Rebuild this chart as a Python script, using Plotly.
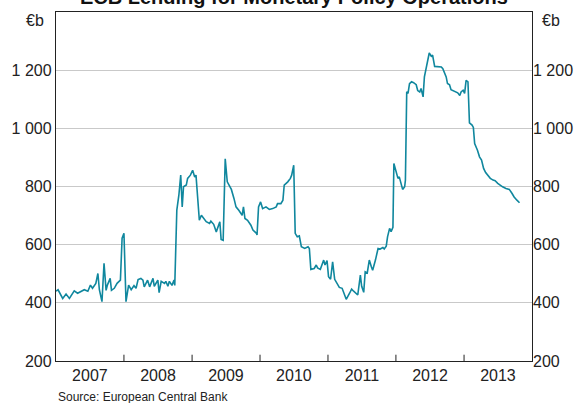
import plotly.graph_objects as go

dates = [
    "2007-01-01", "2007-01-12", "2007-02-06", "2007-02-24", "2007-03-14", "2007-04-09", "2007-04-27",
    "2007-05-15", "2007-06-02", "2007-06-21", "2007-07-05", "2007-07-16", "2007-08-03",
    "2007-08-14", "2007-08-22", "2007-09-05", "2007-09-16", "2007-09-27", "2007-10-04",
    "2007-10-19", "2007-10-26", "2007-11-10", "2007-11-25", "2007-12-13", "2007-12-22",
    "2008-01-01", "2008-01-12", "2008-01-26", "2008-02-09", "2008-02-24", "2008-03-06",
    "2008-03-17", "2008-04-01", "2008-04-12", "2008-04-19", "2008-05-07", "2008-05-18",
    "2008-06-05", "2008-06-12", "2008-07-01", "2008-07-08", "2008-07-19", "2008-08-06",
    "2008-08-13", "2008-08-24", "2008-09-01", "2008-09-15", "2008-09-26", "2008-09-30",
    "2008-10-11", "2008-10-22", "2008-11-01", "2008-11-09", "2008-11-16", "2008-12-01",
    "2008-12-08", "2008-12-23", "2009-01-04", "2009-01-15", "2009-01-22", "2009-02-02",
    "2009-02-09", "2009-02-20", "2009-03-07", "2009-03-18", "2009-04-05", "2009-04-12",
    "2009-04-27", "2009-05-11", "2009-05-30", "2009-06-06", "2009-06-17", "2009-06-24",
    "2009-06-28", "2009-07-09", "2009-07-31", "2009-08-14", "2009-08-25", "2009-09-09",
    "2009-09-27", "2009-10-04", "2009-10-12", "2009-10-26", "2009-11-13", "2009-11-24",
    "2009-12-13", "2009-12-16", "2009-12-24", "2010-01-04", "2010-01-15", "2010-02-02",
    "2010-02-20", "2010-03-10", "2010-03-29", "2010-04-05", "2010-04-23", "2010-05-04",
    "2010-05-11", "2010-05-30", "2010-06-13", "2010-06-20", "2010-07-01", "2010-07-09",
    "2010-07-20", "2010-07-31", "2010-08-11", "2010-08-29", "2010-09-16", "2010-09-23",
    "2010-10-01", "2010-10-19", "2010-10-30", "2010-11-06", "2010-11-21", "2010-12-09",
    "2010-12-16", "2010-12-27", "2011-01-04", "2011-01-15", "2011-01-26", "2011-02-06",
    "2011-02-20", "2011-03-03", "2011-03-18", "2011-03-29", "2011-04-09", "2011-04-27",
    "2011-05-08", "2011-05-19", "2011-06-02", "2011-06-10", "2011-06-24", "2011-07-01",
    "2011-07-12", "2011-07-20", "2011-07-31", "2011-08-11", "2011-08-22", "2011-08-29",
    "2011-09-13", "2011-09-20", "2011-09-27", "2011-10-08", "2011-10-23", "2011-10-30",
    "2011-11-10", "2011-11-17", "2011-11-28", "2011-12-06", "2011-12-16", "2011-12-21",
    "2012-01-01", "2012-01-12", "2012-01-19", "2012-01-30", "2012-02-06", "2012-02-17",
    "2012-02-21", "2012-02-28", "2012-03-06", "2012-03-14", "2012-03-25", "2012-04-05",
    "2012-04-19", "2012-04-27", "2012-05-08", "2012-05-15", "2012-05-26", "2012-06-02",
    "2012-06-13", "2012-06-21", "2012-06-28", "2012-07-09", "2012-07-16", "2012-07-27",
    "2012-08-14", "2012-09-01", "2012-09-09", "2012-09-16", "2012-09-27", "2012-10-04",
    "2012-10-15", "2012-10-23", "2012-11-10", "2012-11-28", "2012-12-09", "2012-12-16",
    "2012-12-27", "2013-01-04", "2013-01-12", "2013-01-22", "2013-01-30", "2013-02-13",
    "2013-02-20", "2013-02-27", "2013-03-14", "2013-03-25", "2013-04-05", "2013-04-16",
    "2013-04-27", "2013-05-08", "2013-05-22", "2013-06-06", "2013-06-17", "2013-07-01",
    "2013-07-12", "2013-07-27", "2013-08-14", "2013-09-01", "2013-09-16", "2013-09-27",
    "2013-10-12", "2013-10-26",
]

lending = [
    440, 445, 415, 430, 415, 441, 433,
    438, 445, 440, 461, 450, 467,
    501, 445, 404, 536, 443, 461,
    484, 443, 450, 467, 478, 622,
    639, 404, 461, 445, 459, 450,
    480, 484, 478, 455, 478, 455,
    484, 457, 478, 435, 474, 467,
    474, 457, 474, 460, 478, 460,
    719, 770, 839, 730, 799, 805,
    828, 839, 856, 833, 839, 753,
    684, 701, 690, 679, 673, 681,
    670, 644, 679, 618, 615, 776,
    895, 816, 790, 759, 730, 718,
    701, 730, 690, 684, 667, 650,
    639, 633, 730, 747, 724, 730,
    721, 724, 730, 741, 741, 753,
    805, 816, 828, 839, 873, 639,
    627, 630, 593, 587, 593, 587,
    515, 518, 530, 520, 515, 547,
    530, 545, 490, 481, 541, 481,
    467, 453, 450, 433, 412, 433,
    447, 440, 433, 427, 495, 457,
    436, 507, 503, 547, 524, 512,
    547, 575, 587, 585, 590, 585,
    595, 627, 656, 645, 660, 879,
    850, 828, 833, 799, 790, 799,
    822, 1126, 1120, 1154, 1160, 1157,
    1150, 1130, 1125, 1137, 1108, 1177,
    1211, 1240, 1259, 1248, 1252, 1213,
    1211, 1211, 1205, 1194, 1177, 1154,
    1150, 1133, 1128, 1122, 1113, 1125,
    1131, 1120, 1165, 1160, 1019, 1011,
    1003, 948, 925, 902, 891, 862,
    848, 840, 828, 822, 820, 811,
    805, 799, 793, 790, 776, 764,
    753, 744,
]

year_labels = ["2007", "2008", "2009", "2010", "2011", "2012", "2013"]
year_label_pos = ["2007-07-02", "2008-07-02", "2009-07-02", "2010-07-02", "2011-07-02", "2012-07-02", "2013-07-02"]
year_ticks = ["2008-01-01", "2009-01-01", "2010-01-01", "2011-01-01", "2012-01-01", "2013-01-01"]
y_ticks = [200, 400, 600, 800, 1000, 1200]
y_ticklabels = ["200", "400", "600", "800", "1 000", "1 200"]

FONT = "Liberation Sans, Arial, sans-serif"
LINE = "#10879e"
AXIS = "#222222"

fig = go.Figure()
fig.add_trace(go.Scatter(x=dates, y=lending, mode="lines",
                         line=dict(color=LINE, width=1.6), showlegend=False,
                         hoverinfo="skip"))
# invisible trace to anchor the right-hand axis
fig.add_trace(go.Scatter(x=[dates[0]], y=[lending[0]], yaxis="y2", mode="lines",
                         line=dict(width=0), showlegend=False, hoverinfo="skip"))

fig.update_layout(
    width=580, height=403,
    margin=dict(l=56, r=48, t=12, b=42, autoexpand=False),
    paper_bgcolor="white", plot_bgcolor="white",
    font=dict(family=FONT, size=16, color="#222222"),
    xaxis=dict(type="date", range=["2007-01-01", "2014-01-01"],
               tickmode="array", tickvals=year_label_pos, ticktext=year_labels,
               ticks="", showgrid=False, zeroline=False, automargin=False,
               showline=True, linecolor=AXIS, linewidth=1.3, mirror=True,
               tickfont=dict(size=16)),
    yaxis=dict(range=[200, 1400], tickmode="array", tickvals=y_ticks,
               ticktext=y_ticklabels, ticks="", showgrid=True, automargin=False,
               gridcolor="#c9c9c9", gridwidth=1, zeroline=False,
               showline=True, linecolor=AXIS, linewidth=1.3, mirror=True,
               tickfont=dict(size=16)),
    yaxis2=dict(range=[200, 1400], overlaying="y", side="right", automargin=False,
                tickmode="array", tickvals=y_ticks, ticktext=y_ticklabels,
                ticks="", showgrid=False, zeroline=False, showline=False,
                tickfont=dict(size=16)),
)

# year boundary tick marks (inside, from bottom axis)
for t in year_ticks:
    fig.add_shape(type="line", xref="x", yref="paper", x0=t, x1=t, y0=0, y1=0.018,
                  line=dict(color=AXIS, width=1))

fig.add_annotation(text="<b>ECB Lending for Monetary Policy Operations</b>",
                   xref="paper", yref="paper", x=0.5, y=1, xanchor="center",
                   yanchor="bottom", yshift=2, showarrow=False,
                   font=dict(family=FONT, size=20, color="#111111"))
fig.add_annotation(text="€b", xref="paper", yref="paper", x=0, y=0.975,
                   xanchor="right", xshift=-10, yanchor="middle", showarrow=False,
                   font=dict(size=16))
fig.add_annotation(text="€b", xref="paper", yref="paper", x=1, y=0.975,
                   xanchor="left", xshift=8, yanchor="middle", showarrow=False,
                   font=dict(size=16))
fig.add_annotation(text="Source: European Central Bank", xref="paper", yref="paper",
                   x=0, y=0, yshift=-27, xanchor="left", yanchor="top",
                   showarrow=False, font=dict(size=12))

fig.write_html("out.html", config={"displayModeBar": False},
               post_script="document.body.style.margin='0';document.body.style.overflow='hidden';")
